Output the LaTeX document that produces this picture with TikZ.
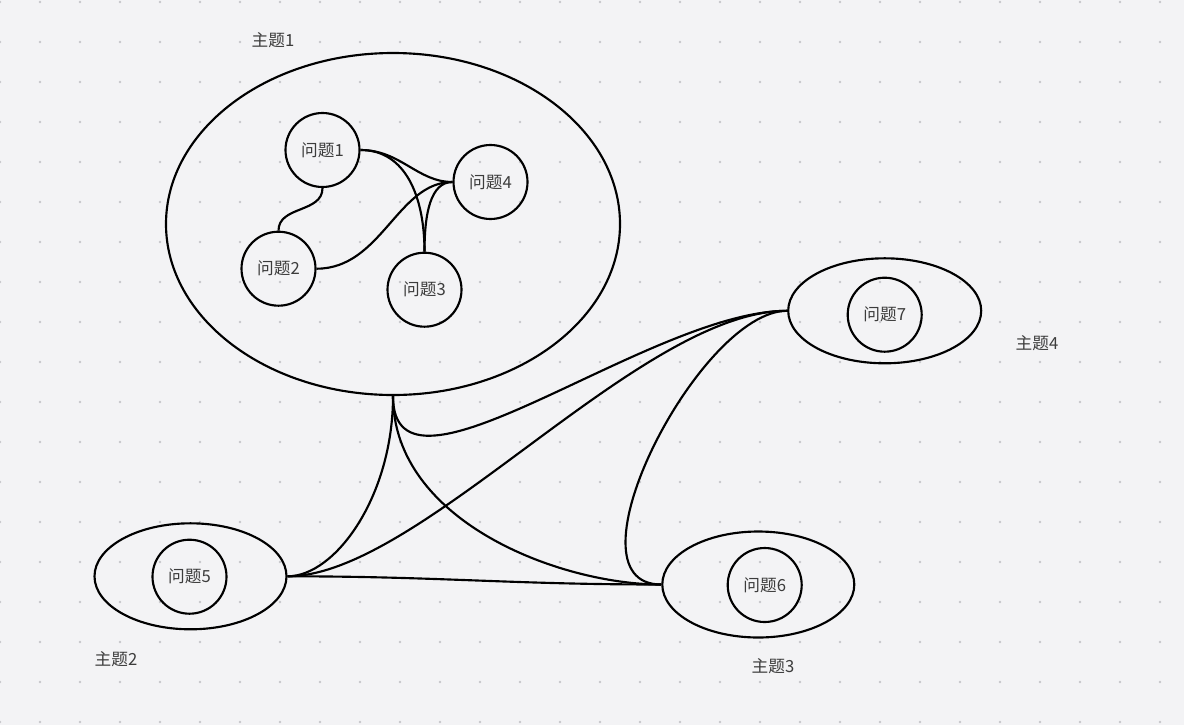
\documentclass[tikz,border=0pt]{standalone}
\usepackage{fontspec}
\setmainfont{Noto Sans CJK SC}
\usetikzlibrary{shapes.geometric}
\definecolor{bg}{HTML}{F3F3F5}
\definecolor{dotc}{HTML}{C6C6CA}
\definecolor{txt}{HTML}{3C3C3C}
\begin{document}
\begin{tikzpicture}[x=0.75pt,y=-0.75pt,
  topic/.style={draw=black, line width=1.6pt, ellipse, inner sep=0pt},
  q/.style={draw=black, line width=1.6pt, circle, inner sep=0pt, minimum size=74*0.75pt, font=\fontsize{12.5}{14}\selectfont, text=txt},
  lbl/.style={font=\fontsize{12.5}{14}\selectfont, text=txt, inner sep=0pt},
  link/.style={line width=1.6pt, draw=black}]
\useasboundingbox (0,0) rectangle (1184,725);
\fill[bg] (0,0) rectangle (1184,725);
\foreach \i in {0,...,29} \foreach \j in {0,...,18} \fill[dotc] (40*\i,40*\j+2) circle (1.1pt);

% topics
\node[topic, minimum width=454*0.75pt, minimum height=342*0.75pt] (t1) at (393,224) {};
\node[topic, minimum width=192*0.75pt, minimum height=106*0.75pt] (t2) at (190.5,576.3) {};
\node[topic, minimum width=192*0.75pt, minimum height=106*0.75pt] (t3) at (758.3,584.5) {};
\node[topic, minimum width=193*0.75pt, minimum height=105*0.75pt] (t4) at (884.7,310.8) {};

% questions
\node[q] (q1) at (322.5,150) {问题1};
\node[q] (q2) at (278.5,268.7) {问题2};
\node[q] (q3) at (424.5,289.7) {问题3};
\node[q] (q4) at (490.5,182) {问题4};
\node[q] (q5) at (189.5,576.7) {问题5};
\node[q] (q6) at (764.7,585) {问题6};
\node[q] (q7) at (884.7,314.7) {问题7};

% labels
\node[lbl] (l1) at (273,40) {主题1};
\node[lbl] (l2) at (116,659) {主题2};
\node[lbl] (l3) at (773,666) {主题3};
\node[lbl] (l4) at (1037,343) {主题4};

% inner links
\draw[link] (q1.south) .. controls +(0,25) and +(0,-25) .. (q2.north);
\draw[link] (q1.east) .. controls +(40,0) and +(-35,0) .. (q4.west);
\draw[link] (q1.east) .. controls +(45,0) and +(0,-55) .. (q3.north);
\draw[link] (q3.north) .. controls +(0,-38) and +(-22,0) .. (q4.west);
\draw[link] (q2.east) .. controls +(65,0) and +(-55,0) .. (q4.west);

% outer links
\draw[link] (t1.south) .. controls +(0,100) and +(48,0) .. (t2.east);
\draw[link] (t1.south) .. controls +(0,125) and +(-138,0) .. (t4.west);
\draw[link] (t1.south) .. controls +(0,125) and +(-102,0) .. (t3.west);
\draw[link] (t2.east) .. controls +(133,0) and +(-148,0) .. (t4.west);
\draw[link] (t2.east) .. controls +(150,0) and +(-150,0) .. (t3.west);
\draw[link] (t4.west) .. controls +(-88,0) and +(-102,0) .. (t3.west);
\end{tikzpicture}
\end{document}
